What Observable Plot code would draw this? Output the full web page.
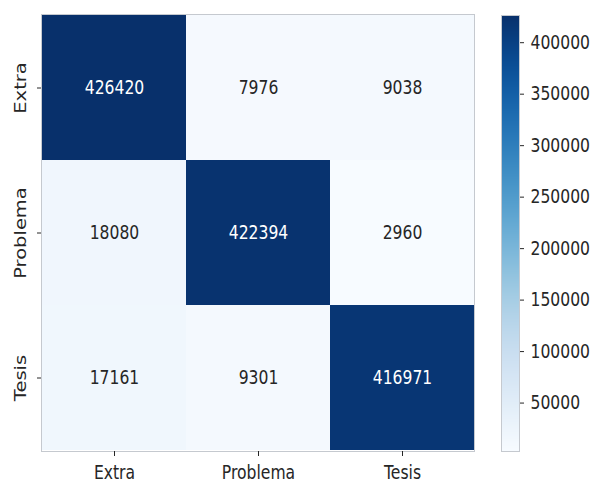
<!DOCTYPE html>
<html>
<head>
<meta charset="utf-8">
<script src="https://cdn.jsdelivr.net/npm/d3@7"></script>
<script src="https://cdn.jsdelivr.net/npm/@observablehq/plot@0.6"></script>
<style>
  body { margin: 0; background: #ffffff; }
  #chart { position: relative; width: 594px; height: 485px; font-family: "DejaVu Sans", sans-serif; }
  #chart svg { position: absolute; top: 0; background: transparent; }
</style>
</head>
<body>
<div id="chart"></div>
<script>
// Confusion matrix: rows are true classes, columns are predicted classes
const classes = ["Extra", "Problema", "Tesis"];
const rowExtra = [426420, 7976, 9038];
const rowProblema = [18080, 422394, 2960];
const rowTesis = [17161, 9301, 416971];
const colorbarTicks = [50000, 100000, 150000, 200000, 250000, 300000, 350000, 400000];

const rows = [rowExtra, rowProblema, rowTesis];
const cells = rows.flatMap((row, i) =>
  row.map((value, j) => ({actual: classes[i], predicted: classes[j], value}))
);
const lo = d3.min(cells, d => d.value);
const hi = d3.max(cells, d => d.value);
const darkThreshold = (lo + hi) / 2;

const ink = "#262626";
const fontSize = 19.5;
const squeeze = 0.8; // horizontal glyph compression of all labels

const color = {type: "linear", scheme: "blues", domain: [lo, hi]};

// Narrow every label horizontally around its own anchor point
// (each text is placed by a translate(...) transform; the y="..em" line offset is kept)
function condense(svg, k) {
  svg.querySelectorAll("text").forEach(t => {
    const tr = t.getAttribute("transform") || "";
    const m = tr.match(/^\s*translate\(\s*([-\d.e]+)[\s,]*([-\d.e]+)?\s*\)(.*)$/);
    if (m) {
      t.setAttribute("transform", `translate(${m[1]},${m[2] || 0}) scale(${k},1)${m[3]}`);
    } else {
      t.setAttribute("transform", `scale(${k},1) ${tr}`);
    }
  });
  return svg;
}

const heatmap = Plot.plot({
  width: 480,
  height: 485,
  marginLeft: 41,
  marginRight: 6,
  marginTop: 14,
  marginBottom: 34,
  style: {fontFamily: "DejaVu Sans, sans-serif", background: "transparent"},
  x: {type: "band", domain: classes, padding: 0, axis: null},
  y: {type: "band", domain: classes, padding: 0, axis: null},
  color,
  marks: [
    Plot.cell(cells, {x: "predicted", y: "actual", fill: "value", inset: 0}),
    Plot.frame({stroke: "#c5c9cf"}),
    Plot.text(cells.filter(d => d.value > darkThreshold), {
      x: "predicted", y: "actual", text: d => String(d.value),
      fill: "#ffffff", fontSize
    }),
    Plot.text(cells.filter(d => d.value <= darkThreshold), {
      x: "predicted", y: "actual", text: d => String(d.value),
      fill: ink, fontSize
    }),
    Plot.axisX({tickSize: 5, tickPadding: 9, fontSize, color: ink, label: null}),
    Plot.axisY({tickSize: 4, tickFormat: () => "", color: ink, label: null}),
    Plot.text(classes, {
      y: d => d, text: d => d, frameAnchor: "left", dx: -15.5,
      rotate: -90, textAnchor: "middle", lineAnchor: "bottom",
      fontSize, fill: ink
    })
  ]
});

// Color bar: the value range cut into thin slices, each filled by the same color scale
const sliceCount = 436;
const slices = d3.range(sliceCount).map(i => {
  const a = lo + (hi - lo) * i / sliceCount;
  const b = lo + (hi - lo) * (i + 1) / sliceCount;
  return {a, b, mid: (a + b) / 2};
});

const colorbar = Plot.plot({
  width: 114,
  height: 485,
  marginLeft: 21,
  marginRight: 75,
  marginTop: 15,
  marginBottom: 34,
  style: {fontFamily: "DejaVu Sans, sans-serif", background: "transparent"},
  x: {domain: [0, 1], axis: null},
  y: {domain: [lo, hi], axis: null},
  color,
  marks: [
    Plot.rect(slices, {x1: 0, x2: 1, y1: "a", y2: "b", fill: "mid", shapeRendering: "crispEdges"}),
    Plot.frame({stroke: "#c5c9cf"}),
    Plot.axisY({
      anchor: "right", ticks: colorbarTicks, tickSize: 4, tickPadding: 7,
      tickFormat: d => String(d), fontSize, color: ink, label: null
    })
  ]
});

const chart = document.getElementById("chart");
condense(heatmap, squeeze);
condense(colorbar, squeeze);
heatmap.style.left = "0px";
colorbar.style.left = "480px";
chart.append(heatmap, colorbar);
</script>
</body>
</html>
